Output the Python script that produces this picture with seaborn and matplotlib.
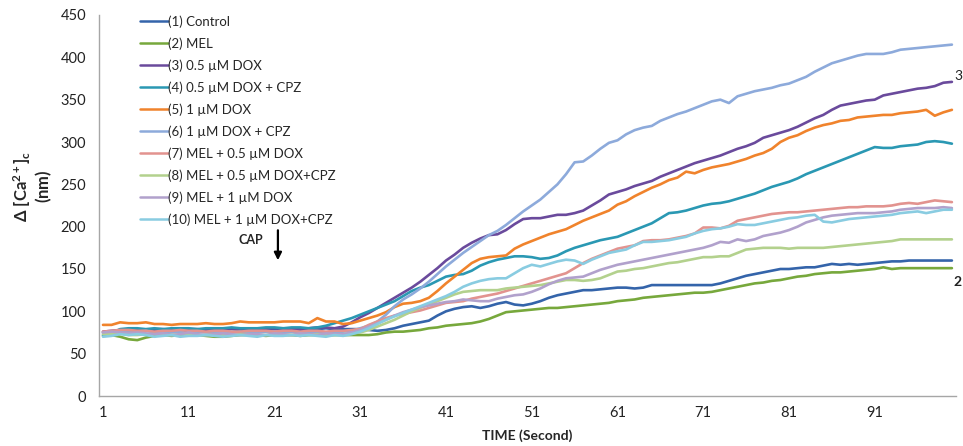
import matplotlib
matplotlib.use("Agg")
import matplotlib.pyplot as plt
import seaborn as sns
import pandas as pd

# Time axis (seconds) and the Δ[Ca2+]c traces for each treatment group
time_s = list(range(1, 101))

control = [75, 76, 77, 77, 78, 77, 78, 78, 78, 77, 77, 78, 78, 77, 78, 79, 78, 78, 78, 79,
           79, 79, 78, 78, 78, 79, 80, 79, 79, 79, 79, 78, 77, 78, 80, 83, 85, 87, 89, 95,
           100, 103, 105, 106, 104, 106, 109, 111, 108, 107, 109, 112, 116, 119, 121, 123, 125, 125, 126, 127,
           128, 128, 127, 128, 131, 131, 131, 131, 131, 131, 131, 131, 133, 136, 139, 142, 144, 146, 148, 150,
           150, 151, 152, 152, 154, 156, 155, 156, 155, 156, 157, 158, 159, 159, 160, 160, 160, 160, 160, 160]

mel = [71, 72, 70, 67, 66, 69, 71, 72, 71, 72, 72, 72, 71, 70, 70, 71, 72, 72, 72, 71,
       72, 72, 72, 71, 72, 72, 72, 72, 72, 72, 72, 72, 73, 75, 76, 76, 77, 78, 80, 81,
       83, 84, 85, 86, 88, 91, 95, 99, 100, 101, 102, 103, 104, 104, 105, 106, 107, 108, 109, 110,
       112, 113, 114, 116, 117, 118, 119, 120, 121, 122, 122, 123, 125, 127, 129, 131, 133, 134, 136, 137,
       139, 141, 142, 144, 145, 146, 146, 147, 148, 149, 150, 152, 150, 151, 151, 151, 151, 151, 151, 151]

dox_05 = [76, 77, 78, 79, 78, 78, 79, 79, 78, 78, 79, 79, 78, 78, 79, 80, 79, 79, 79, 80,
          80, 80, 79, 79, 80, 81, 81, 80, 82, 87, 93, 98, 104, 110, 116, 122, 128, 135, 143, 151,
          160, 167, 175, 181, 186, 190, 191, 196, 203, 209, 210, 210, 212, 214, 214, 216, 219, 225, 231, 238,
          241, 244, 248, 251, 254, 259, 263, 267, 271, 275, 278, 281, 284, 288, 292, 295, 299, 305, 308, 311,
          314, 318, 323, 328, 332, 338, 343, 345, 347, 349, 350, 355, 357, 359, 361, 363, 364, 366, 370, 371]

dox_05_cpz = [72, 74, 79, 80, 80, 79, 80, 79, 80, 80, 80, 79, 80, 80, 80, 81, 80, 80, 80, 81,
              81, 80, 81, 81, 80, 81, 83, 86, 89, 92, 96, 100, 104, 108, 112, 118, 124, 128, 131, 136,
              141, 143, 144, 148, 154, 158, 161, 163, 165, 165, 164, 162, 163, 166, 171, 175, 178, 181, 184, 186,
              188, 192, 196, 200, 204, 210, 216, 217, 219, 222, 225, 227, 228, 230, 233, 236, 239, 243, 247, 250,
              253, 257, 262, 266, 270, 274, 278, 282, 286, 290, 294, 293, 293, 295, 296, 297, 300, 301, 300, 298]

dox_1 = [84, 84, 87, 86, 86, 87, 85, 85, 84, 85, 85, 85, 86, 85, 85, 86, 88, 87, 87, 87,
         87, 88, 88, 88, 86, 92, 88, 88, 85, 86, 89, 92, 95, 99, 105, 109, 110, 112, 116, 124,
         133, 141, 149, 157, 162, 164, 165, 166, 174, 179, 183, 187, 191, 194, 197, 202, 207, 211, 215, 219,
         226, 230, 236, 241, 246, 250, 255, 258, 265, 263, 267, 270, 272, 274, 277, 280, 284, 287, 292, 300,
         305, 308, 313, 317, 320, 322, 325, 326, 329, 330, 331, 332, 332, 334, 335, 336, 338, 331, 335, 338]

dox_1_cpz = [74, 75, 77, 76, 76, 77, 75, 74, 75, 76, 74, 76, 75, 75, 74, 75, 76, 74, 75, 76,
             76, 75, 76, 75, 74, 76, 75, 74, 76, 77, 80, 83, 88, 96, 106, 114, 120, 127, 135, 144,
             153, 161, 169, 176, 183, 190, 195, 202, 210, 218, 225, 232, 241, 250, 262, 276, 277, 284, 292, 299,
             302, 309, 314, 317, 319, 325, 329, 333, 336, 340, 344, 348, 350, 346, 354, 357, 360, 362, 364, 367,
             369, 373, 377, 383, 388, 393, 396, 399, 402, 404, 404, 404, 406, 409, 410, 411, 412, 413, 414, 415]

mel_dox_05 = [76, 77, 78, 78, 77, 77, 76, 77, 77, 78, 77, 77, 76, 77, 77, 76, 76, 77, 77, 77,
              76, 77, 77, 76, 77, 77, 76, 77, 77, 78, 79, 84, 88, 92, 95, 97, 99, 101, 104, 107,
              110, 111, 112, 115, 117, 119, 121, 124, 127, 130, 133, 136, 139, 142, 145, 151, 157, 162, 166, 170,
              174, 176, 178, 183, 184, 184, 185, 187, 189, 192, 199, 199, 198, 201, 207, 209, 211, 213, 215, 216,
              217, 217, 218, 219, 220, 221, 222, 223, 223, 224, 224, 224, 225, 227, 228, 227, 229, 231, 230, 229]

mel_dox_05_cpz = [73, 73, 74, 72, 72, 73, 73, 72, 72, 73, 73, 72, 72, 73, 72, 72, 73, 73, 72, 72,
                  73, 72, 72, 73, 72, 73, 72, 72, 73, 74, 75, 78, 82, 86, 90, 95, 100, 104, 108, 112,
                  116, 120, 123, 124, 125, 125, 125, 127, 128, 129, 130, 131, 133, 135, 137, 137, 136, 137, 139, 143,
                  147, 148, 150, 151, 153, 155, 157, 158, 160, 162, 164, 164, 165, 165, 169, 173, 174, 175, 175, 175,
                  174, 175, 175, 175, 175, 176, 177, 178, 179, 180, 181, 182, 183, 185, 185, 185, 185, 185, 185, 185]

mel_dox_1 = [75, 76, 75, 74, 75, 74, 73, 74, 72, 73, 75, 73, 72, 73, 74, 73, 72, 73, 73, 72,
             74, 73, 72, 74, 73, 72, 74, 73, 73, 75, 78, 82, 86, 90, 95, 99, 102, 105, 107, 109,
             111, 112, 114, 113, 112, 112, 115, 117, 119, 120, 123, 127, 132, 136, 139, 140, 141, 145, 149, 152,
             155, 157, 159, 161, 163, 165, 167, 169, 171, 173, 175, 178, 182, 181, 185, 183, 185, 189, 191, 193,
             196, 200, 205, 208, 211, 213, 214, 215, 216, 216, 216, 217, 218, 220, 221, 222, 222, 222, 223, 222]

mel_dox_1_cpz = [70, 71, 73, 72, 73, 72, 70, 71, 72, 70, 71, 71, 72, 71, 70, 71, 72, 71, 70, 72,
                 71, 71, 72, 71, 72, 71, 70, 72, 71, 73, 76, 80, 85, 90, 94, 98, 102, 106, 110, 114,
                 118, 123, 129, 133, 136, 138, 139, 139, 145, 151, 155, 153, 156, 159, 161, 160, 156, 161, 165, 169,
                 171, 173, 178, 182, 182, 183, 184, 186, 188, 192, 195, 197, 198, 200, 203, 202, 202, 204, 206, 208,
                 210, 211, 213, 214, 206, 205, 207, 209, 210, 211, 212, 213, 214, 216, 217, 218, 216, 218, 220, 220]

group_labels = ["(1) Control", "(2) MEL", "(3) 0.5 \u00b5M DOX", "(4) 0.5 \u00b5M DOX + CPZ",
                "(5) 1 \u00b5M DOX", "(6) 1 \u00b5M DOX + CPZ", "(7) MEL + 0.5 \u00b5M DOX",
                "(8) MEL + 0.5 \u00b5M DOX+CPZ", "(9) MEL + 1 \u00b5M DOX", "(10) MEL + 1 \u00b5M DOX+CPZ"]
group_values = [control, mel, dox_05, dox_05_cpz, dox_1, dox_1_cpz,
                mel_dox_05, mel_dox_05_cpz, mel_dox_1, mel_dox_1_cpz]
group_colors = ["#3464AA", "#77A83C", "#6A4A9C", "#2A98B3", "#F0832C",
                "#8DAADB", "#E2938F", "#B3D18D", "#B1A1CC", "#89CCE1"]

x_ticks = [1, 11, 21, 31, 41, 51, 61, 71, 81, 91]
y_ticks = [0, 50, 100, 150, 200, 250, 300, 350, 400, 450]

rows = []
for name, vals in zip(group_labels, group_values):
    for t, v in zip(time_s, vals):
        rows.append({"time": t, "value": v, "group": name})
df = pd.DataFrame(rows)

sns.set_theme(style="white")
plt.rcParams["font.family"] = ["Lato", "DejaVu Sans"]
plt.rcParams["mathtext.fontset"] = "custom"
plt.rcParams["mathtext.rm"] = "Lato"
plt.rcParams["mathtext.bf"] = "Lato:bold"
plt.rcParams["mathtext.it"] = "Lato:italic"

fig = plt.figure(figsize=(9.63, 4.46), dpi=100)
ax = fig.add_axes([98.7 / 963, 50 / 446, 857.5 / 963, 381 / 446])

sns.lineplot(data=df, x="time", y="value", hue="group", hue_order=group_labels,
             palette=group_colors, linewidth=1.9, ax=ax)

ax.set_xlim(0.5, 100.5)
ax.set_ylim(0, 450)
ax.set_xticks(x_ticks)
ax.set_xticklabels([str(v) for v in x_ticks])
ax.set_yticks(y_ticks)
ax.set_yticklabels([str(v) for v in y_ticks])
ax.tick_params(axis="both", length=0, labelsize=10.5, colors="#222222")
ax.tick_params(axis="y", pad=9)
ax.tick_params(axis="x", pad=7)

for side in ("top", "right"):
    ax.spines[side].set_visible(False)
for side in ("left", "bottom"):
    ax.spines[side].set_color("#A6A6A6")
    ax.spines[side].set_linewidth(1.0)

ax.set_xlabel("TIME (Second)", fontsize=10, fontweight="bold", labelpad=7)
ax.set_ylabel(r"$\mathbf{\Delta\ [Ca^{2+}]_c}$" + "\n" + r"$\mathbf{(nm)}$",
              fontsize=12, va="center", linespacing=1.05)
ax.yaxis.set_label_coords(-0.077, 0.55)

leg = ax.legend(loc="upper left", bbox_to_anchor=(140 / 963, 1 - 15 / 446),
                bbox_transform=fig.transFigure, frameon=False, fontsize=9.5,
                handlelength=2.1, handletextpad=0.05, labelspacing=0.72,
                borderpad=0, borderaxespad=0)
for line in leg.get_lines():
    line.set_linewidth(1.8)

# capsaicin addition marker
ax.annotate("", xy=(21.4, 157), xytext=(21.4, 199),
            arrowprops=dict(arrowstyle="-|>", color="black", lw=1.6, mutation_scale=11))
ax.text(18.2, 184, "CAP", fontsize=9, fontweight="bold", ha="center", va="center")

# series numbers at the right end of the lines
fig.text(962 / 963, 1 - 76 / 446, "3", fontsize=10, ha="right", va="center", color="#222222")
fig.text(962 / 963, 1 - 282 / 446, "2", fontsize=10, fontweight="bold", ha="right", va="center",
         color="#222222")

fig.savefig("out.png", dpi=100, facecolor="white")
